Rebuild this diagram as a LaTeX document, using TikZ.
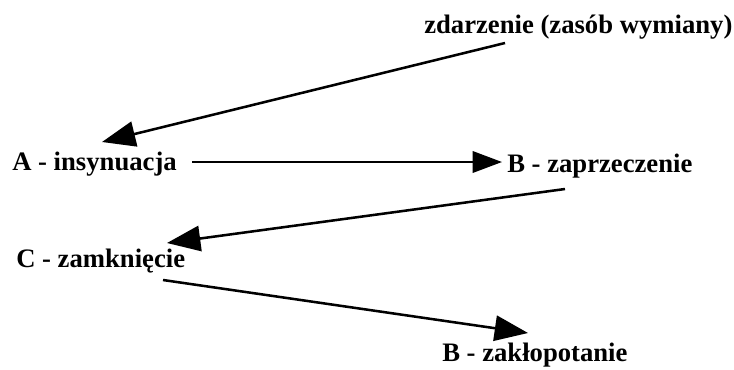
\documentclass[tikz,border=0pt]{standalone}
\usepackage{fontspec}
\setmainfont{Liberation Serif}
\usetikzlibrary{calc}
\usetikzlibrary{arrows.meta}
\begin{document}
\begin{tikzpicture}[x=0.75pt, y=-0.75pt,
  lbl/.style={anchor=base west, inner sep=0pt, font=\fontsize{20}{24}\selectfont\bfseries},
  arr/.style={line width=1.9pt, arrows={-{Triangle[length=25pt, width=19pt]}}},
  harr/.style={line width=1.9pt, arrows={-{Triangle[length=22pt, width=16pt]}}}]
\useasboundingbox (0, 0) rectangle (734, 369);

\node (ev) [lbl] at (424, 33) {zdarzenie (zasób wymiany)};
\node (a) [lbl] at (12, 170) {A - insynuacja};
\node (b1) [lbl] at (507, 172) {B - zaprzeczenie};
\node (c) [lbl] at (16, 267) {C - zamknięcie};
\node (b2) [lbl] at (442, 361) {B - zakłopotanie};

\draw [arr] ($(ev.base west)+(81, 10)$) -- ($(a.base west)+(90, -28)$);
\draw [harr] ($(a.base west)+(180, -8)$) -- ($(b1.base west)+(-5, -10)$);
\draw [arr] ($(b1.base west)+(58, 17)$) -- ($(c.base west)+(151, -24)$);
\draw [arr] ($(c.base west)+(147, 13)$) -- ($(b2.base west)+(86, -28)$);
\end{tikzpicture}
\end{document}
